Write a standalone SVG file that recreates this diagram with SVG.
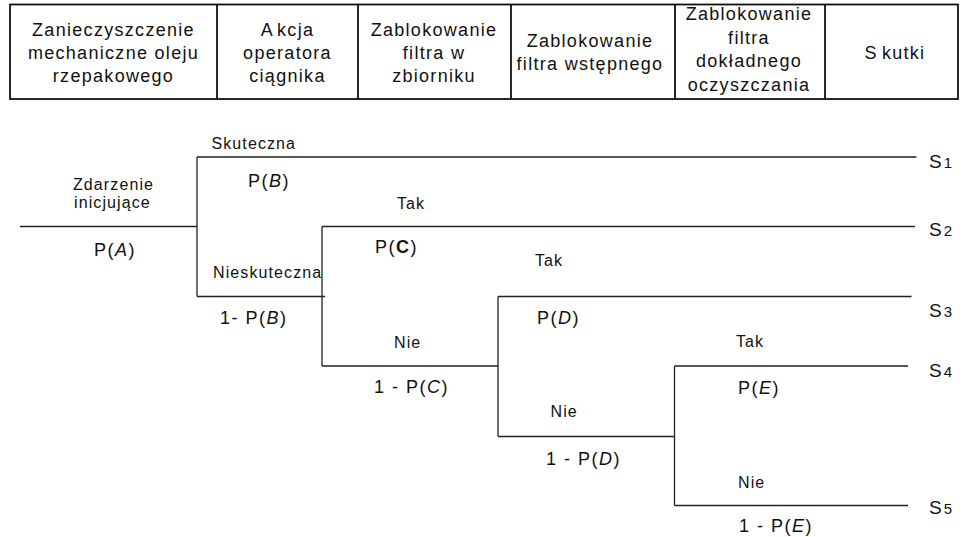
<svg xmlns="http://www.w3.org/2000/svg" width="964" height="537" viewBox="0 0 964 537">
<style>
text{font-family:"Liberation Sans",Arial,sans-serif;fill:#111}
.h{font-size:18px;letter-spacing:1.3px;text-anchor:middle}
.s{font-size:16px;letter-spacing:1.1px}
.p{font-size:18px;letter-spacing:1.5px}
.sl{font-size:19px}
.sub{font-size:15px}
.i{font-style:italic}
.b{font-weight:bold}
.ln{stroke:#222;stroke-width:1.3;fill:none}
.tb{stroke:#111;stroke-width:1.8;fill:none}
</style>
<rect width="964" height="537" fill="#fff"/>
<g id="header">
<rect class="tb" x="10" y="4.5" width="948" height="94.5"/>
<path class="tb" d="M217 4.5V99M358 4.5V99M511 4.5V99M675 4.5V99M825 4.5V99"/>
<text class="h" x="113.5" y="36">Zanieczyszczenie</text>
<text class="h" x="113.5" y="59">mechaniczne oleju</text>
<text class="h" x="113.5" y="82">rzepakowego</text>
<text class="h" x="287.5" y="36">A<tspan dx="3">kcja</tspan></text>
<text class="h" x="287.5" y="59">operatora</text>
<text class="h" x="287.5" y="82">ciągnika</text>
<text class="h" x="434" y="36">Zablokowanie</text>
<text class="h" x="434" y="59">filtra w</text>
<text class="h" x="434" y="82">zbiorniku</text>
<text class="h" x="590" y="47">Zablokowanie</text>
<text class="h" x="590" y="70">filtra wstępnego</text>
<text class="h" x="749" y="20">Zablokowanie</text>
<text class="h" x="749" y="43.5">filtra</text>
<text class="h" x="749" y="67">dokładnego</text>
<text class="h" x="749" y="90.5">oczyszczania</text>
<text class="h" x="895" y="59">S<tspan dx="4">kutki</tspan></text>
</g>
<g id="connectors">
<path class="ln" d="M20 226.5H197M197 157V296.5M197 157H916.5M197 296.5H325M322 226.5V366M322 226.5H915M322 366H498M498 296.5V436.5M498 296.5H911.5M498 436.5H674.5M674.5 366V505.5M674.5 366H908M674.5 505.5H908"/>
</g>
<g id="initiating">
<text class="s" x="73" y="190">Zdarzenie</text>
<text class="s" x="74" y="208">inicjujące</text>
<text class="p" x="94" y="256">P(<tspan class="i">A</tspan>)</text>
</g>
<g id="branch-B">
<text class="s" x="211.5" y="149">Skuteczna</text>
<text class="p" x="248" y="187">P(<tspan class="i">B</tspan>)</text>
<text class="s" x="213" y="278">Nieskuteczna</text>
<text class="p" x="220" y="324">1- P(<tspan class="i">B</tspan>)</text>
</g>
<g id="branch-C">
<text class="s" x="397" y="208.5">Tak</text>
<text class="p" x="375" y="253">P(<tspan class="b">C</tspan>)</text>
<text class="s" x="394" y="347.5">Nie</text>
<text class="p" x="374" y="392.5">1 - P(<tspan class="i">C</tspan>)</text>
</g>
<g id="branch-D">
<text class="s" x="535" y="265.5">Tak</text>
<text class="p" x="537" y="324">P(<tspan class="i">D</tspan>)</text>
<text class="s" x="550.5" y="416.5">Nie</text>
<text class="p" x="546" y="465">1 - P(<tspan class="i">D</tspan>)</text>
</g>
<g id="branch-E">
<text class="s" x="736" y="347">Tak</text>
<text class="p" x="738" y="394">P(<tspan class="i">E</tspan>)</text>
<text class="s" x="738" y="487.5">Nie</text>
<text class="p" x="739" y="532">1 - P(<tspan class="i">E</tspan>)</text>
</g>
<g id="outcomes">
<text class="sl" x="929" y="168">S<tspan class="sub" dx="2">1</tspan></text>
<text class="sl" x="929" y="236">S<tspan class="sub" dx="2">2</tspan></text>
<text class="sl" x="929" y="317">S<tspan class="sub" dx="2">3</tspan></text>
<text class="sl" x="929" y="377">S<tspan class="sub" dx="2">4</tspan></text>
<text class="sl" x="929" y="514">S<tspan class="sub" dx="2">5</tspan></text>
</g>
</svg>
